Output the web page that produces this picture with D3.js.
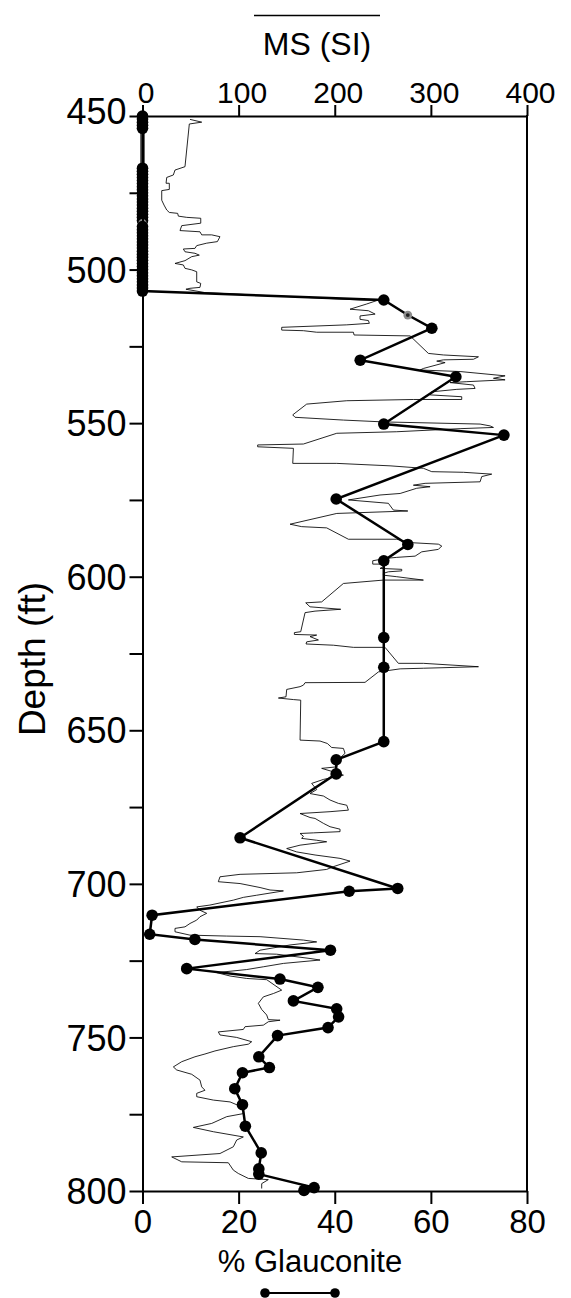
<!DOCTYPE html>
<html>
<head>
<meta charset="utf-8">
<script src="https://cdn.jsdelivr.net/npm/d3@7"></script>
<style>
  html, body { margin: 0; padding: 0; background: #fff; }
  svg { display: block; font-family: "Liberation Sans", Arial, Helvetica, sans-serif; }
</style>
</head>
<body>
<svg id="chart" width="571" height="1298"></svg>
<script>
// ---------------- data ----------------
// Magnetic susceptibility log (MS, SI) against depth (ft)
const msDepth = [451.1,452.0,452.6,466.5,467.6,469.2,470.0,471.9,471.9,473.9,474.3,477.4,479.0,480.6,481.4,481.7,482.6,483.0,483.3,484.9,485.7,487.3,487.7,488.7,488.7,489.3,490.9,491.4,492.2,493.1,493.3,494.2,494.7,495.3,495.8,497.1,498.0,498.5,499.6,500.1,500.7,504.0,504.5,505.8,506.1,506.4,507.5,
  509.9,510.1,511.2,512.9,513.4,514.5,515.1,516.2,516.6,517.5,518.0,518.8,519.7,519.9,520.4,520.4,521.3,521.6,527.3,527.8,528.4,529.2,529.4,529.8,530.3,532.2,532.7,533.2,534.6,535.4,535.9,536.5,536.8,537.6,538.7,539.0,539.8,540.8,541.4,542.3,542.3,542.7,543.8,547.3,548.1,549.0,549.6,550.3,550.9,551.4,551.8,552.8,553.3,556.8,557.1,557.7,558.2,563.1,563.1,563.9,564.7,565.8,566.0,566.6,567.4,569.1,569.6,570.2,570.7,571.2,572.9,573.4,575.0,576.1,578.3,578.6,579.4,582.9,583.7,584.1,587.8,587.8,588.9,589.4,590.0,591.1,591.9,593.3,593.7,594.0,594.8,595.9,595.9,597.3,597.6,598.1,598.4,598.9,599.5,600.0,601.1,601.1,602.2,608.2,608.5,609.8,610.6,611.2,611.7,617.9,618.2,618.8,619.0,619.5,620.6,621.2,621.9,622.3,623.0,623.0,628.2,628.2,629.3,629.8,630.0,631.0,634.4,634.5,635.3,635.8,636.7,639.1,639.5,640.0,640.2,653.2,653.5,654.3,655.6,655.9,657.5,659.5,661.9,662.4,663.2,664.6,666.0,667.3,669.3,
  670.6,671.4,672.7,673.8,674.4,676.0,676.5,677.1,678.4,678.7,680.3,681.4,682.2,683.0,683.4,683.6,684.5,685.2,685.8,686.3,687.4,688.5,689.6,690.6,691.7,692.6,694.4,695.3,696.4,696.9,697.7,699.3,699.9,701.2,702.0,702.3,703.7,704.4,705.3,706.9,707.5,708.6,709.6,710.7,711.8,712.9,714.0,714.5,715.6,716.7,717.0,717.2,718.3,718.9,719.9,721.6,722.7,722.9,724.3,724.8,725.9,727.0,727.9,728.9,730.0,730.8,731.2,
  734.6,735.7,736.8,738.9,740.9,742.7,744.2,744.4,744.9,746.0,746.5,747.4,748.2,749.2,750.0,751.4,752.2,753.0,754.4,755.4,756.3,757.9,759.6,760.6,762.0,763.9,766.1,767.2,768.2,769.3,770.4,771.0,772.6,774.8,775.8,778.0,779.3,780.7,782.4,783.4,785.6,787.8,788.9,790.5,790.8,793.2,794.3,795.9,796.3,797.6,799.2];
const msValue = [49.4,61.6,48.7,44.2,33.8,32.1,25.2,24.5,27.9,27.9,20.0,20.0,22.4,25.2,27.9,36.6,37.3,46.0,60.6,60.6,40.8,39.0,59.8,61.6,72.0,80.6,77.9,66.8,56.4,54.6,42.5,44.2,54.6,59.1,51.2,44.2,33.8,42.5,44.2,51.2,56.4,56.4,60.6,59.8,49.4,45.2,65.0,
  226.3,243.7,233.3,215.9,235.0,242.0,226.3,226.3,235.0,236.0,212.5,144.8,144.8,167.4,181.2,219.4,220.1,278.4,297.4,313.0,349.5,344.3,313.0,306.1,314.8,292.2,288.8,330.4,377.2,365.1,377.2,337.4,320.0,344.3,346.0,327.0,300.9,299.2,332.1,332.1,281.8,212.5,170.8,156.3,158.7,209.0,250.6,351.2,361.6,365.1,330.4,264.5,202.1,167.4,119.8,119.8,157.0,156.3,202.1,257.5,292.2,300.9,333.9,363.3,352.9,351.2,294.0,281.8,299.2,285.3,268.0,247.1,214.2,255.8,261.0,276.0,202.1,153.5,165.6,191.6,214.2,264.5,278.4,307.8,311.3,307.8,290.5,283.6,264.5,254.1,239.5,239.5,255.8,247.1,269.7,269.7,255.8,250.6,250.6,264.5,292.2,250.6,209.0,186.4,169.8,174.3,206.2,179.5,169.1,164.6,158.0,158.0,181.2,174.3,183.0,170.8,170.1,198.6,219.4,252.3,266.2,292.2,349.5,292.2,268.0,245.4,231.5,169.1,167.4,163.9,150.0,149.3,141.4,157.0,164.6,163.9,184.7,192.3,196.8,209.0,210.7,203.8,202.1,186.4,195.1,209.0,188.2,176.0,181.2,
  174.3,188.2,195.1,203.8,212.5,214.2,195.1,163.9,174.3,179.5,188.2,195.1,205.5,205.5,177.8,163.9,167.4,165.6,181.2,191.6,163.9,150.0,160.4,179.5,205.5,215.9,198.6,191.6,160.4,101.5,80.6,78.9,101.5,122.3,132.7,146.6,118.8,104.9,94.5,70.2,56.4,59.8,66.8,59.8,56.4,49.4,44.2,33.8,33.8,49.4,87.6,122.3,167.4,181.2,153.5,122.3,117.1,139.6,174.3,184.7,146.6,125.7,108.4,77.2,91.1,108.4,129.2,
  144.8,136.2,125.7,120.5,124.0,129.2,130.9,143.1,130.9,125.7,106.7,104.9,78.9,80.6,98.0,113.6,110.1,94.5,75.4,65.0,54.6,40.8,32.1,35.6,51.2,59.8,61.6,65.0,56.4,56.4,73.7,91.1,103.2,104.9,87.6,72.0,52.9,73.7,104.9,98.0,94.5,80.6,30.4,40.8,89.3,94.5,99.7,110.1,130.9,124.0,124.0];

// Glauconite content (%) against depth (ft)
const glauDepth = [450,451,452,453,454,467,468,469,470,471,472,473,474,475,476,477,478,479,480,481,482,483,484,485,486,487,488,489,490,491,492,493,494,495,496,497,498,499,500,501,502,503,504,505,506,507,
  509.9,514.8,519.1,529.5,534.9,550.3,553.9,574.7,589.5,594.8,619.8,629.5,653.7,659.6,664.2,685.0,701.5,702.4,710.2,716.4,718.1,721.6,727.6,731.0,733.7,738.1,740.7,743.3,746.8,749.4,756.3,759.8,761.5,766.7,771.9,778.9,787.6,792.8,794.5,798.9,799.8];
const glauValue = [0,0,0,0,0,0,0,0,0,0,0,0,0,0,0,0,0,0,0,0,0,0,0,0,0,0,0,0,0,0,0,0,0,0,0,0,0,0,0,0,0,0,0,0,0,0,
  50.2,55.2,60.2,45.3,65.2,50.2,75.2,40.3,55.2,50.2,50.2,50.2,50.2,40.3,40.3,20.3,53.1,43.0,2.0,1.5,10.9,39.1,9.2,28.6,36.5,31.4,40.4,40.8,38.6,28.1,24.2,26.4,20.8,19.2,20.8,21.4,24.7,24.2,24.2,35.7,33.6];
// samples drawn with a grey marker
const glauGreyDepth = [485, 514.8];

// axis ticks
const depthTicks = [450,475,500,525,550,575,600,625,650,675,700,725,750,775,800];
const msTicks = [0,100,200,300,400];
const glauTicks = [0,20,40,60,80];

// ---------------- layout ----------------
const svg = d3.select("#chart");
const pL = 142.5, pR = 527, pT = 116, pB = 1191;

const y = d3.scaleLinear().domain([450, 800]).range([pT, pB]);
const xMS = d3.scaleLinear().domain([0, 400]).range([pL, pR]);
const xG = d3.scaleLinear().domain([0, 80]).range([pL, pR]);

// MS log
const msData = msDepth.map((d, i) => ({ d, v: msValue[i] }));
svg.append("path")
  .datum(msData)
  .attr("fill", "none")
  .attr("stroke", "#000")
  .attr("stroke-width", 0.85)
  .attr("stroke-linejoin", "miter")
  .attr("d", d3.line().x(p => xMS(p.v)).y(p => y(p.d)));

// Glauconite series
const gData = glauDepth.map((d, i) => ({ d, v: glauValue[i] }));
const gLine = d3.line().x(p => xG(p.v)).y(p => y(p.d));
svg.append("path")
  .datum(gData)
  .attr("fill", "none")
  .attr("stroke", "#000")
  .attr("stroke-width", 2.5)
  .attr("d", gLine);
// double-stroke segment along the zero samples
const zeroData = gData.filter(p => p.v === 0);
svg.append("path").datum(zeroData)
  .attr("fill", "none").attr("stroke", "#000").attr("stroke-width", 4.2).attr("d", gLine);
svg.append("path").datum(zeroData)
  .attr("fill", "none").attr("stroke", "#fff").attr("stroke-width", 1.4).attr("d", gLine);

const dots = svg.append("g");
gData.forEach(p => {
  const grey = glauGreyDepth.includes(p.d);
  dots.append("circle")
    .attr("cx", xG(p.v)).attr("cy", y(p.d))
    .attr("r", grey ? 4.4 : 5.8)
    .attr("fill", grey ? "#8c8c8c" : "#000");
  if (grey) {
    dots.append("circle")
      .attr("cx", xG(p.v)).attr("cy", y(p.d))
      .attr("r", 1.9).attr("fill", "#222");
  }
});

// ---------------- axes ----------------
const axisStyle = g => {
  g.selectAll("path.domain").attr("stroke", "#000").attr("stroke-width", 2);
  g.selectAll(".tick line").attr("stroke", "#000").attr("stroke-width", 2);
  g.selectAll(".tick text").attr("fill", "#000").attr("font-family", "'Liberation Sans', Arial, sans-serif");
};

// left depth axis
const gL = svg.append("g").attr("transform", `translate(${pL},0)`)
  .call(d3.axisLeft(y).tickValues(depthTicks).tickSize(13).tickSizeOuter(0).tickPadding(3)
    .tickFormat(d => d % 50 === 0 ? d : ""));
axisStyle(gL);
gL.selectAll(".tick text").attr("font-size", 36).attr("dy", d => d === 450 ? "0.2em" : "0.35em");

// top MS axis
const gT = svg.append("g").attr("transform", `translate(0,${pT})`)
  .call(d3.axisTop(xMS).tickValues(msTicks).tickSize(11).tickSizeOuter(0).tickPadding(2));
axisStyle(gT);
gT.selectAll(".tick text").attr("font-size", 30).attr("dy", "0").attr("dx", 3);

// bottom glauconite axis
const gB = svg.append("g").attr("transform", `translate(0,${pB})`)
  .call(d3.axisBottom(xG).tickValues(glauTicks).tickSize(13).tickSizeOuter(0).tickPadding(6));
axisStyle(gB);
gB.selectAll(".tick text").attr("font-size", 33).attr("dy", "0.71em");

// right frame line
svg.append("line")
  .attr("x1", pR).attr("x2", pR).attr("y1", pT - 1).attr("y2", pB + 1)
  .attr("stroke", "#000").attr("stroke-width", 2);

// ---------------- titles & legend keys ----------------
svg.append("text")
  .attr("transform", `translate(45,659) rotate(-90)`)
  .attr("text-anchor", "middle").attr("font-size", 37).attr("fill", "#000")
  .text("Depth (ft)");

svg.append("text")
  .attr("x", 317).attr("y", 55)
  .attr("text-anchor", "middle").attr("font-size", 32).attr("fill", "#000")
  .text("MS (SI)");
svg.append("line")
  .attr("x1", 254).attr("x2", 380).attr("y1", 15.5).attr("y2", 15.5)
  .attr("stroke", "#000").attr("stroke-width", 1.3);

svg.append("text")
  .attr("x", 310).attr("y", 1272)
  .attr("text-anchor", "middle").attr("font-size", 31).attr("fill", "#000")
  .text("% Glauconite");
svg.append("line")
  .attr("x1", 265).attr("x2", 335).attr("y1", 1293).attr("y2", 1293)
  .attr("stroke", "#000").attr("stroke-width", 2.2);
[265, 335].forEach(cx => svg.append("circle").attr("cx", cx).attr("cy", 1293).attr("r", 4.8).attr("fill", "#000"));
</script>
</body>
</html>
